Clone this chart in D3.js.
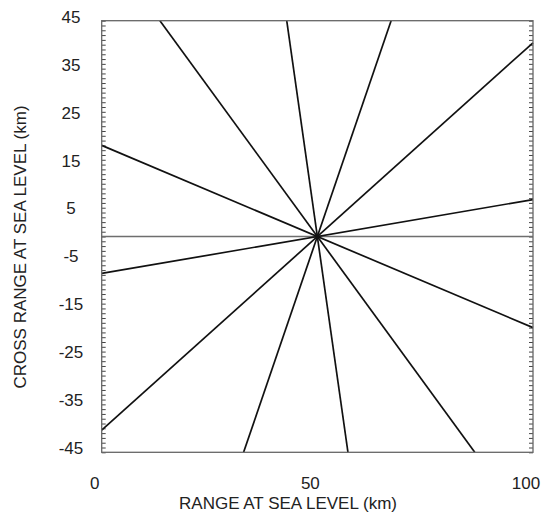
<!DOCTYPE html>
<html>
<head>
<meta charset="utf-8">
<script src="https://cdn.jsdelivr.net/npm/d3@7"></script>
<style>
  html, body { margin: 0; padding: 0; background: #fff; }
  svg { display: block; }
  text { font-family: "Liberation Sans", Arial, sans-serif; fill: #222; }
</style>
</head>
<body>
<svg id="chart" width="548" height="514"></svg>
<script>
// ---- data ----
const xTicks = [0, 50, 100];
const yTicks = [45, 35, 25, 15, 5, -5, -15, -25, -35, -45];
// radial line segments through the centre (50, 0)
const segX1 = [0, 0, 0, 13.5, 42.9, 67.1];
const segY1 = [19, -7.7, -40.4, 45, 45, 45];
const segX2 = [100, 100, 100, 86.5, 57.1, 32.9];
const segY2 = [-19, 7.7, 40.4, -45, -45, -45];
const baseline = [0];   // horizontal reference line at cross range 0
const xTitle = "RANGE AT SEA LEVEL (km)";
const yTitle = "CROSS RANGE AT SEA LEVEL (km)";

// ---- layout ----
const pLeft = 101.7, pRight = 533, pTop = 20.7, pBottom = 452.3;
const svg = d3.select("#chart");
const x = d3.scaleLinear().domain([0, 100]).range([pLeft, pRight]);
const y = d3.scaleLinear().domain([-45, 45]).range([pBottom, pTop]);

// minor ticks every 1 unit on left and right (inside)
const minor = d3.range(-45, 46, 1);
const leftAxis = d3.axisRight(y).tickValues(minor).tickSize(4).tickFormat("");
const rightAxis = d3.axisLeft(y).tickValues(minor).tickSize(4).tickFormat("");
const gl = svg.append("g").attr("transform", `translate(${pLeft},0)`).call(leftAxis);
const gr = svg.append("g").attr("transform", `translate(${pRight},0)`).call(rightAxis);
[gl, gr].forEach(g => {
  g.select(".domain").remove();
  g.selectAll(".tick line").attr("stroke", "#444").attr("stroke-width", 1);
});

// baseline
svg.selectAll(".base").data(baseline).enter().append("line")
  .attr("x1", x(0)).attr("x2", x(100))
  .attr("y1", d => y(d)).attr("y2", d => y(d))
  .attr("stroke", "#6e6e6e").attr("stroke-width", 1.6);

// radial lines
svg.selectAll(".ray").data(segX1.map((d, i) => i)).enter().append("line")
  .attr("x1", i => x(segX1[i])).attr("y1", i => y(segY1[i]))
  .attr("x2", i => x(segX2[i])).attr("y2", i => y(segY2[i]))
  .attr("stroke", "#111").attr("stroke-width", 1.7);

// frame
svg.append("rect")
  .attr("x", pLeft).attr("y", pTop)
  .attr("width", pRight - pLeft).attr("height", pBottom - pTop)
  .attr("fill", "none").attr("stroke", "#666").attr("stroke-width", 1.3);

// x tick labels
svg.selectAll(".xl").data(xTicks).enter().append("text")
  .attr("x", d => x(d) - 7).attr("y", 489)
  .attr("text-anchor", "middle").attr("font-size", 17)
  .text(d => d);

// y tick labels
svg.selectAll(".yl").data(yTicks).enter().append("text")
  .attr("x", 71).attr("y", d => y(d) - 4)
  .attr("dy", "0.35em")
  .attr("text-anchor", "middle").attr("font-size", 17)
  .text(d => d);

// axis titles
svg.append("text")
  .attr("x", 288).attr("y", 509)
  .attr("text-anchor", "middle").attr("font-size", 17)
  .text(xTitle);
svg.append("text")
  .attr("transform", "translate(26,247) rotate(-90)")
  .attr("text-anchor", "middle").attr("font-size", 17)
  .text(yTitle);
</script>
</body>
</html>
